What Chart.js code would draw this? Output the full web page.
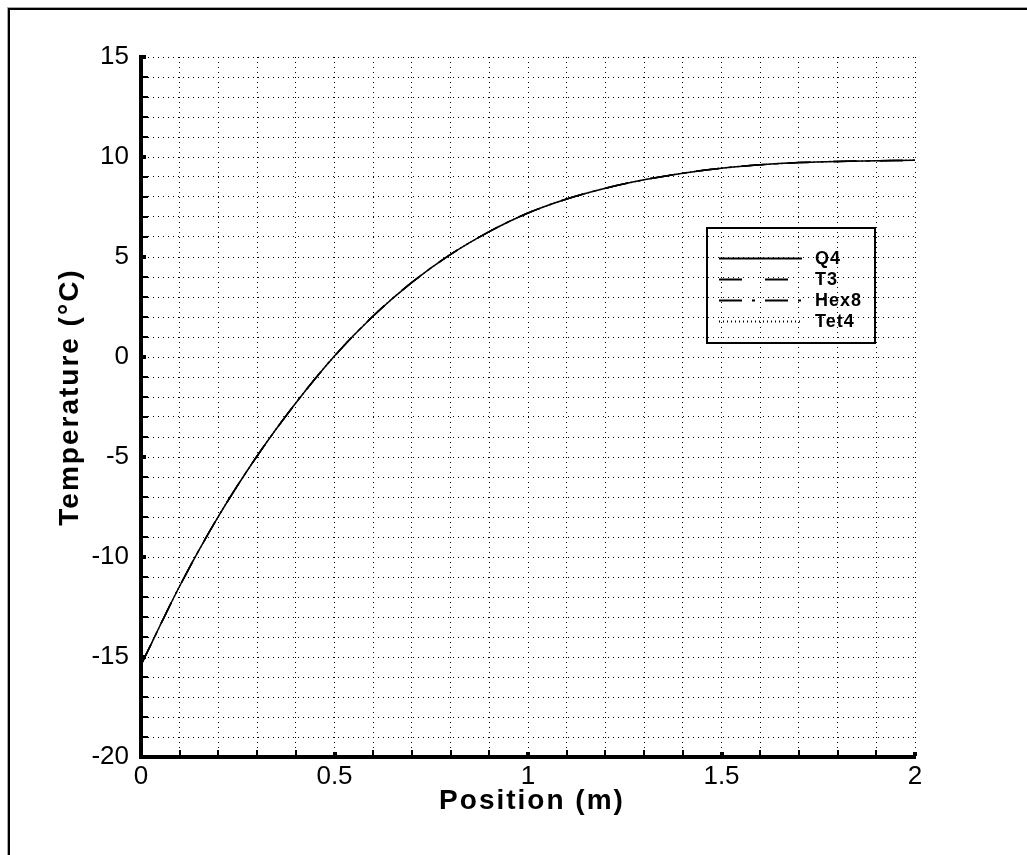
<!DOCTYPE html>
<html>
<head>
<meta charset="utf-8">
<script src="https://cdn.jsdelivr.net/npm/chart.js@4/dist/chart.umd.min.js"></script>
<style>
  html, body { margin: 0; padding: 0; background: #fff; }
  #wrap { width: 1027px; height: 855px; position: relative; }
</style>
</head>
<body>
<div id="wrap"><canvas id="c" width="1027" height="855"></canvas></div>
<script>
// ---- data ----
const positions = [0, 0.1, 0.2, 0.3, 0.4, 0.5, 0.6, 0.7, 0.8, 0.9, 1.0,
                   1.1, 1.2, 1.3, 1.4, 1.5, 1.6, 1.7, 1.8, 1.9, 2.0];
const q4Temps   = [-15.4, -11.45, -7.97, -4.95, -2.3, 0.05, 2.05, 3.73, 5.13, 6.27, 7.2,
                   7.9, 8.44, 8.86, 9.19, 9.44, 9.61, 9.72, 9.78, 9.81, 9.84];
const t3Temps   = [-15.4, -11.45, -7.97, -4.95, -2.3, 0.05, 2.05, 3.73, 5.13, 6.27, 7.2,
                   7.9, 8.44, 8.86, 9.19, 9.44, 9.61, 9.72, 9.78, 9.81, 9.84];
const hex8Temps = [-15.4, -11.45, -7.97, -4.95, -2.3, 0.05, 2.05, 3.73, 5.13, 6.27, 7.2,
                   7.9, 8.44, 8.86, 9.19, 9.44, 9.61, 9.72, 9.78, 9.81, 9.84];
const tet4Temps = [-15.4, -11.45, -7.97, -4.95, -2.3, 0.05, 2.05, 3.73, 5.13, 6.27, 7.2,
                   7.9, 8.44, 8.86, 9.19, 9.44, 9.61, 9.72, 9.78, 9.81, 9.84];
const seriesNames = ['Q4', 'T3', 'Hex8', 'Tet4'];
const xTickLabels = ['0', '0.5', '1', '1.5', '2'];
const yTickLabels = ['-20', '-15', '-10', '-5', '0', '5', '10', '15'];
const xTitle = 'Position (m)';
const yTitle = 'Temperature (\u00B0C)';

const FONT = "'Liberation Sans', Arial, Helvetica, sans-serif";
Chart.defaults.font.family = FONT;
Chart.defaults.color = '#000';

function pts(ys) { return positions.map((x, i) => ({ x: x, y: ys[i] })); }

const dashes = [[], [23, 23], [23, 10, 3, 10], [1, 3]];
const allSeries = [q4Temps, t3Temps, hex8Temps, tet4Temps];

const datasets = seriesNames.map((name, i) => ({
  label: name,
  data: pts(allSeries[i]),
  borderColor: '#000',
  borderWidth: 1.5,
  borderDash: dashes[i],
  pointRadius: 0,
  fill: false,
  cubicInterpolationMode: 'monotone'
})).reverse();

const framePlugin = {
  id: 'frame',
  beforeDraw(chart) {
    const ctx = chart.ctx;
    ctx.save();
    ctx.fillStyle = '#fff';
    ctx.fillRect(0, 0, chart.width, chart.height);
    ctx.fillStyle = '#aaa';
    ctx.fillRect(7, 7, chart.width, 1);
    ctx.fillRect(7, 7, 1, chart.height);
    ctx.fillStyle = '#000';
    ctx.fillRect(8, 8, chart.width, 2);
    ctx.fillRect(8, 8, 2, chart.height);
    ctx.restore();
  }
};

const decorPlugin = {
  id: 'decor',
  afterDraw(chart) {
    const ctx = chart.ctx;
    const xs = chart.scales.x, ys = chart.scales.y;
    const area = chart.chartArea;
    ctx.save();
    ctx.fillStyle = '#000';
    // y tick marks (inward)
    ys.ticks.forEach(t => {
      const p = Math.round(ys.getPixelForValue(t.value));
      const major = yTickLabels.includes(String(Math.round(t.value)));
      if (major) ctx.fillRect(area.left + 1, p - 2, 4, 4);
      else ctx.fillRect(area.left + 1, p - 1, 6, 2);
    });
    // x tick marks (inward)
    xs.ticks.forEach(t => {
      const p = Math.round(xs.getPixelForValue(t.value));
      const major = xTickLabels.includes(String(Math.round(t.value * 10) / 10));
      if (major) ctx.fillRect(p - 2, area.bottom - 5, 4, 4);
      else ctx.fillRect(p - 1, area.bottom - 7, 2, 6);
    });

    // axis titles
    ctx.font = 'bold 28px ' + FONT;
    try { ctx.letterSpacing = '2px'; } catch (e) {}
    ctx.textAlign = 'center';
    ctx.textBaseline = 'alphabetic';
    ctx.fillText(xTitle, 532, 809);
    ctx.save();
    ctx.translate(78, 397);
    ctx.rotate(-Math.PI / 2);
    ctx.fillText(yTitle, 0, 0);
    ctx.restore();

    // legend
    try { ctx.letterSpacing = '1px'; } catch (e) {}
    ctx.strokeStyle = '#000';
    ctx.lineWidth = 2;
    ctx.setLineDash([]);
    ctx.strokeRect(707, 228, 168, 115);
    const rows = [258, 279, 300, 321];
    const ordered = chart.data.datasets.slice().reverse();
    ordered.forEach((ds, i) => {
      const y = rows[i];
      ctx.beginPath();
      ctx.setLineDash(ds.borderDash || []);
      ctx.lineWidth = 2;
      ctx.moveTo(719, y + 0.5);
      ctx.lineTo(802, y + 0.5);
      ctx.stroke();
      ctx.setLineDash([]);
      ctx.font = 'bold 18px ' + FONT;
      ctx.textAlign = 'left';
      ctx.textBaseline = 'middle';
      ctx.fillText(ds.label, 815, y + 1);
    });
    ctx.restore();
  }
};

new Chart(document.getElementById('c'), {
  type: 'line',
  data: { datasets: datasets },
  options: {
    responsive: false,
    animation: false,
    devicePixelRatio: 1,
    layout: { padding: { top: 57, right: 112, left: 0, bottom: 0 } },
    plugins: { legend: { display: false }, tooltip: { enabled: false }, title: { display: false } },
    scales: {
      x: {
        type: 'linear',
        min: 0, max: 2,
        afterFit(s) { s.height = 98; },
        grid: { color: '#000', lineWidth: 1, drawTicks: false },
        border: { display: true, color: '#000', width: 4, dash: [1, 4] },
        ticks: {
          stepSize: 0.1,
          autoSkip: false,
          maxRotation: 0,
          padding: 4,
          font: { size: 26 },
          color: '#000',
          callback(v) {
            const s = String(Math.round(v * 10) / 10);
            return xTickLabels.includes(s) ? s : '';
          }
        }
      },
      y: {
        type: 'linear',
        min: -20, max: 15,
        afterFit(s) { s.width = 141; },
        grid: { color: '#000', lineWidth: 1, drawTicks: false },
        border: { display: true, color: '#000', width: 4, dash: [1, 4] },
        ticks: {
          stepSize: 1,
          autoSkip: false,
          padding: 12,
          font: { size: 26 },
          color: '#000',
          callback(v) {
            const s = String(Math.round(v));
            return yTickLabels.includes(s) ? s : '';
          }
        }
      }
    }
  },
  plugins: [framePlugin, decorPlugin]
});
</script>
</body>
</html>
